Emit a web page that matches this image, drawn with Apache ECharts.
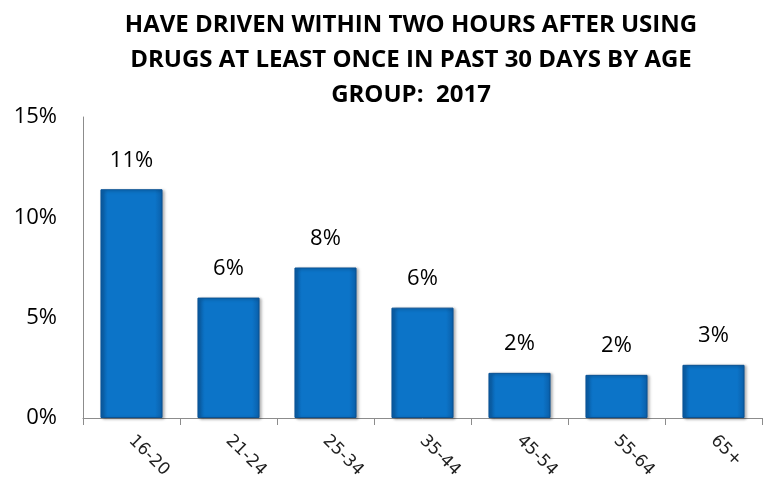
<!DOCTYPE html>
<html>
<head>
<meta charset="utf-8">
<script src="https://cdn.jsdelivr.net/npm/echarts@6/dist/echarts.min.js"></script>
<style>
  html, body { margin: 0; padding: 0; background: #fff; }
  #chart { width: 770px; height: 491px; }
</style>
</head>
<body>
<div id="chart"></div>
<script>
const ageGroups = ["16-20", "21-24", "25-34", "35-44", "45-54", "55-64", "65+"];
// bar heights (percent)
const drugDrivePct = [11.4, 6.0, 7.5, 5.5, 2.25, 2.15, 2.65];
// labels printed above the bars
const barLabels = ["11%", "6%", "8%", "6%", "2%", "2%", "3%"];
const yTicks = [0, 5, 10, 15];

const chart = echarts.init(document.getElementById("chart"));

const barColor = new echarts.graphic.LinearGradient(0, 0, 1, 0, [
  { offset: 0, color: "#0a5ea8" },
  { offset: 0.12, color: "#0c74c8" },
  { offset: 0.88, color: "#0c74c8" },
  { offset: 1, color: "#0a5ea8" },
]);

const options = {
  title: {
    text: "HAVE DRIVEN WITHIN TWO HOURS AFTER USING\nDRUGS AT LEAST ONCE IN PAST 30 DAYS BY AGE\nGROUP:  2017",
    left: 406,
    textAlign: "center",
    top: 3,
    textStyle: {
      fontFamily: "Open Sans",
      fontWeight: "bold",
      fontSize: 24,
      lineHeight: 35,
      color: "#000",
    },
  },
  grid: { left: 83, right: 8, top: 117, bottom: 73 },
  xAxis: {
    type: "category",
    data: ageGroups,
    axisLine: { lineStyle: { color: "#8c8c8c", width: 1 } },
    axisTick: { show: true, alignWithLabel: false, length: 7, lineStyle: { color: "#8c8c8c" } },
    axisLabel: {
      rotate: -45,
      margin: 20,
      fontFamily: "DejaVu Sans",
      fontSize: 17,
      color: "#222",
    },
  },
  yAxis: {
    type: "value",
    min: yTicks[0],
    max: yTicks[yTicks.length - 1],
    interval: 5,
    axisLine: { show: true, lineStyle: { color: "#8c8c8c", width: 1 } },
    axisTick: { show: false },
    splitLine: { show: false },
    axisLabel: {
      formatter: "{value}%",
      margin: 26,
      fontFamily: "Open Sans",
      fontSize: 22,
      color: "#000",
    },
  },
  series: [
    {
      type: "bar",
      data: drugDrivePct,
      barWidth: "64%",
      itemStyle: {
        color: barColor,
        borderColor: "#0a5294",
        borderWidth: 1,
        shadowColor: "rgba(0,0,0,0.35)",
        shadowBlur: 3,
        shadowOffsetX: 2,
        shadowOffsetY: 1,
      },
      label: {
        show: true,
        position: "top",
        distance: 18,
        formatter: (p) => barLabels[p.dataIndex],
        fontFamily: "Open Sans",
        fontSize: 22,
        color: "#000",
      },
    },
  ],
};

chart.setOption(options);
</script>
</body>
</html>
